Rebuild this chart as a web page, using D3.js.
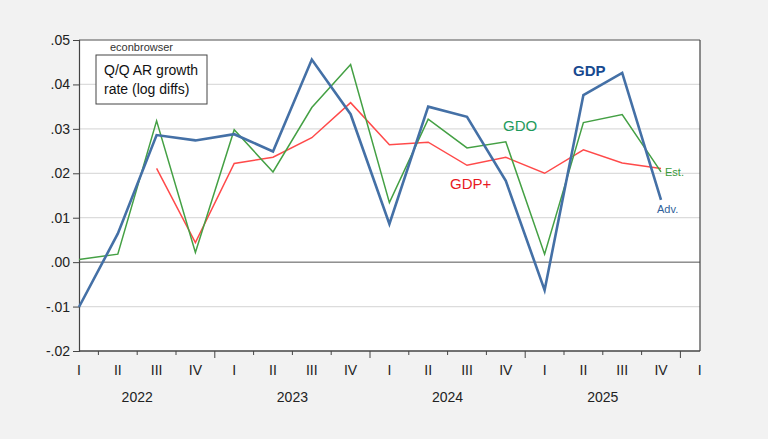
<!DOCTYPE html>
<html><head><meta charset="utf-8">
<script src="https://cdn.jsdelivr.net/npm/d3@7/dist/d3.min.js"></script>
<style>
html,body{margin:0;padding:0;background:#f2f2f2;}
svg{display:block;font-family:"Liberation Sans",Arial,sans-serif;}
</style></head><body>
<svg id="chart" width="768" height="439"></svg>
<script>
const quarters = ["2022Q1","2022Q2","2022Q3","2022Q4","2023Q1","2023Q2","2023Q3","2023Q4","2024Q1","2024Q2","2024Q3","2024Q4","2025Q1","2025Q2","2025Q3","2025Q4"];
const gdp   = [-0.0101,0.0064,0.0286,0.0274,0.0288,0.0249,0.0456,0.0333,0.0086,0.0350,0.0327,0.0183,-0.0063,0.0376,0.0426,0.0140];
const gdo   = [0.0006,0.0018,0.0318,0.0022,0.0298,0.0203,0.0348,0.0445,0.0134,0.0322,0.0257,0.0271,0.0018,0.0314,0.0332,0.0203];
const gdpPlus = [null,null,0.0211,0.0044,0.0222,0.0236,0.0280,0.0359,0.0264,0.0270,0.0218,0.0236,0.0200,0.0253,0.0223,0.0211];
const yTicks = [-0.02,-0.01,0,0.01,0.02,0.03,0.04,0.05];
const qLabels = ["I","II","III","IV"];
const years = ["2022","2023","2024","2025"];

const svg = d3.select("#chart");
const L=79, R=700, T=40, B=351;
const x = d3.scaleLinear().domain([0,16]).range([L,L+16*38.8]);
const y = d3.scaleLinear().domain([-0.02,0.05]).range([B,T]);

svg.append("rect").attr("x",L).attr("y",T).attr("width",R-L).attr("height",B-T).attr("fill","#fff");

// gridlines
svg.append("g").selectAll("line").data(yTicks.filter(d=>d!==0&&d!==-0.02&&d!==0.05)).join("line")
  .attr("x1",L).attr("x2",R).attr("y1",d=>y(d)).attr("y2",d=>y(d))
  .attr("stroke","#dcdcdc").attr("stroke-width",1.3);
svg.append("line").attr("x1",L).attr("x2",R).attr("y1",y(0)).attr("y2",y(0)).attr("stroke","#555").attr("stroke-width",1);

// frame
svg.append("line").attr("x1",L).attr("x2",R).attr("y1",T).attr("y2",T).attr("stroke","#888").attr("stroke-width",1.5);
svg.append("line").attr("x1",R).attr("x2",R).attr("y1",T).attr("y2",B).attr("stroke","#444").attr("stroke-width",1.2);

// y axis
const yAxis = d3.axisLeft(y).tickValues(yTicks).tickSize(6).tickPadding(3)
  .tickFormat(d=>{const s=d3.format(".2f")(Math.abs(d)).replace("0.","."); return (d<0?"-":"")+s;});
const gy = svg.append("g").attr("transform",`translate(${L},0)`).call(yAxis);
gy.select(".domain").attr("stroke","#444").attr("stroke-width",1.2);
gy.selectAll(".tick line").attr("stroke","#444");
gy.selectAll("text").attr("font-size",14).attr("fill","#222").attr("font-family","Liberation Sans, Arial, sans-serif");

// x axis
svg.append("line").attr("x1",L).attr("x2",R).attr("y1",B).attr("y2",B).attr("stroke","#444").attr("stroke-width",1.5);
const tickPos = d3.range(0,16).map(i=>i+0.5);
svg.append("g").selectAll("line").data(tickPos).join("line")
  .attr("x1",d=>x(d)).attr("x2",d=>x(d)).attr("y1",B).attr("y2",d=>(Math.round(d-0.5)%4===3)?B+7:B+4)
  .attr("stroke","#444").attr("stroke-width",1);
svg.append("g").selectAll("text").data(d3.range(0,17)).join("text")
  .attr("x",d=>x(d)).attr("y",375).attr("text-anchor","middle").attr("font-size",14).attr("fill","#222")
  .text(d=>qLabels[d%4]);
svg.append("g").selectAll("text").data(years).join("text")
  .attr("x",(d,i)=>x(i*4+1.5)).attr("y",402).attr("text-anchor","middle").attr("font-size",14).attr("fill","#222")
  .text(d=>d);

// lines
const line = d3.line().defined(d=>d!=null).x((d,i)=>x(i)).y(d=>y(d));
svg.append("path").datum(gdpPlus).attr("d",line).attr("fill","none").attr("stroke","#ff4a4a").attr("stroke-width",1.5);
svg.append("path").datum(gdo).attr("d",line).attr("fill","none").attr("stroke","#44a044").attr("stroke-width",1.5);
svg.append("path").datum(gdp).attr("d",line).attr("fill","none").attr("stroke","#4470a6").attr("stroke-width",2.6);

// labels
svg.append("text").attr("x",573).attr("y",76).attr("font-size",15).attr("font-weight","bold").attr("fill","#17498f").text("GDP");
svg.append("text").attr("x",503).attr("y",131).attr("font-size",15).attr("fill","#1d9a5c").text("GDO");
svg.append("text").attr("x",450).attr("y",189).attr("font-size",15).attr("fill","#e8191f").text("GDP+");
svg.append("text").attr("x",665).attr("y",176).attr("font-size",11).attr("fill","#3a9a3a").text("Est.");
svg.append("text").attr("x",657).attr("y",213).attr("font-size",11).attr("fill","#2f5f9a").text("Adv.");

// note box
svg.append("text").attr("x",110).attr("y",51).attr("font-size",11).attr("fill","#333").text("econbrowser");
svg.append("rect").attr("x",96).attr("y",55).attr("width",111).attr("height",49).attr("fill","#fff").attr("stroke","#444").attr("stroke-width",1);
svg.append("text").attr("x",104).attr("y",75).attr("font-size",14).attr("fill","#111").text("Q/Q AR growth");
svg.append("text").attr("x",104).attr("y",94).attr("font-size",14).attr("fill","#111").text("rate (log diffs)");
</script>
</body></html>
